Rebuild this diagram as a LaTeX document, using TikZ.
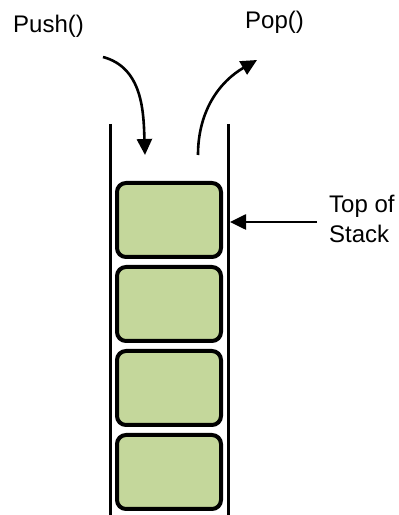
\documentclass[tikz,border=0pt]{standalone}
\usepackage{fontspec}
\setmainfont{Liberation Sans}
\usepackage{xcolor}
\usepackage{tikz}
\usetikzlibrary{arrows.meta, positioning}

\definecolor{stackgreen}{RGB}{196,215,155}

\begin{document}
\begin{tikzpicture}[
  x=1pt, y=1pt,
  node distance=6pt,
  item/.style={
    rectangle, rounded corners=9pt,
    minimum width=104pt, minimum height=74pt,
    line width=4pt, draw=black, fill=stackgreen
  },
  wall/.style={line width=3pt, black},
  arr/.style={-{Triangle[length=16pt, width=15pt]}, line width=2.6pt, black},
  lbl/.style={font=\fontsize{24}{30}\selectfont, inner sep=0pt, align=left}
]
\useasboundingbox (0,0) rectangle (399,515);

%% Stack walls
\draw[wall] (110,391) -- (110,0);
\draw[wall] (228,391) -- (228,0);

%% Stack items
\node[item] (b1) at (169,295) {};
\node[item, below=of b1] (b2) {};
\node[item, below=of b2] (b3) {};
\node[item, below=of b3] (b4) {};

%% Labels
\node[lbl, anchor=base west] (push) at (13,482) {Push()};
\node[lbl, anchor=base west] (pop) at (245,486) {Pop()};
\node[lbl, anchor=base west] (tos) at (329,272) {Top of\\Stack};

%% Arrow end points
\coordinate (pushS) at (103,458);
\coordinate (pushE) at (145,360);
\coordinate (popS) at (198,360);
\coordinate (popE) at (257,455);
\coordinate (tip) at (230,293);

%% Arrows
\draw[arr] (pushS) to[out=-15, in=92] (pushE);
\draw[arr] (popS) to[out=90, in=-150] (popE);
\draw[arr] ([xshift=-12pt]tip -| tos.west) -- (tip);

\end{tikzpicture}
\end{document}
